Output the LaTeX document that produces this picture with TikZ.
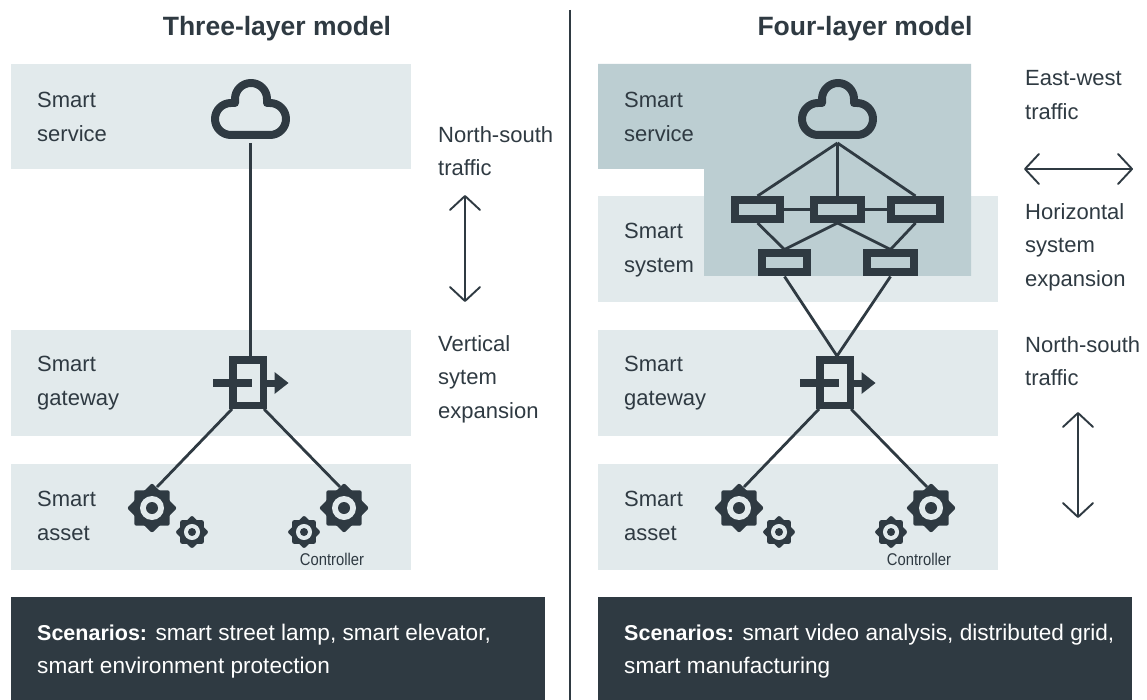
\documentclass[tikz,border=0pt]{standalone}
\usepackage{fontspec}
\setmainfont{Liberation Sans}
\usetikzlibrary{arrows.meta}
\definecolor{ink}{HTML}{2F3A42}
\definecolor{band}{HTML}{E2EAEC}
\definecolor{bandDark}{HTML}{BCCED2}
\newcommand{\scenhead}{{\fontsize{21.5}{33.5}\selectfont\bfseries Scenarios:}}
\tikzset{
  layer/.style={fill=band},
  panel/.style={fill=ink},
  wire/.style={draw=ink, line width=2.8pt},
  split/.style={draw=ink, line width=2.4pt},
  flow/.style={draw=ink, line width=1.9pt, line cap=round, {Straight Barb[length=14pt,width=30pt,line width=1.9pt,round]}-{Straight Barb[length=14pt,width=30pt,line width=1.9pt,round]}},
  lab/.style={text=ink, inner sep=0pt, anchor=west, align=left, font=\fontsize{22}{33.5}\selectfont},
  head/.style={text=ink, inner sep=0pt, font=\fontsize{26.5}{30}\selectfont\bfseries},
  scen/.style={text=white, inner sep=0pt, anchor=west, align=left, font=\fontsize{22.6}{33.5}\selectfont},
  small/.style={text=ink, inner sep=0pt, xscale=0.87, font=\fontsize{17}{18}\selectfont},
  swbox/.style={draw=ink, line width=8pt, minimum height=19pt, inner sep=0pt},
  cloudicon/.pic={
    \draw[ink, line width=8pt, line join=round] (-15.5,-16) -- ++(0,-4) arc(180:360:16) -- ++(0,4) -- (19.5,-16) arc(270:450:16) -- (-19.5,16) arc(90:270:16) -- cycle;
  },
  gateicon/.pic={
    \draw[ink, line width=7.5pt] (-15,-23) rectangle (15.5,22.5);
    \fill[ink] (-35.5,-4) rectangle (3.5,4);
    \fill[ink] (18,-3.5) rectangle (28,3.5);
    \fill[ink] (26.5,-11) -- (40.5,0) -- (26.5,11) -- cycle;
  },
  gearicon/.pic={
    \foreach \rot in {0,45}
      \fill[ink, rounded corners=2pt, rotate=\rot] (25,0) -- (0,25) -- (-25,0) -- (0,-25) -- cycle;
    \fill[ink] (0,0) circle(19);
    \fill[band] (0,0) circle(12);
    \fill[ink] (0,0) circle(6);
  }
}
\begin{document}
\begin{tikzpicture}[x=1pt, y=-1pt]
  \useasboundingbox (0,0) rectangle (1147,700);
  \fill[white] (0,0) rectangle (1147,700);

  \fill[layer] (11,64) rectangle (411,169);
  \fill[layer] (11,330) rectangle (411,436);
  \fill[layer] (11,464) rectangle (411,570);
  \fill[panel] (11,597) rectangle (545,700);

  \fill[layer] (598,196) rectangle (998,302);
  \fill[bandDark] (598,64) -- (971,64) -- (971,276) -- (704,276) -- (704,169) -- (598,169) -- cycle;
  \fill[layer] (598,330) rectangle (998,436);
  \fill[layer] (598,464) rectangle (998,570);
  \fill[panel] (598,597) rectangle (1132,700);

  \coordinate (splitTop) at (570,10);
  \coordinate (splitEnd) at (570,700);
  \draw[split] (splitTop) -- (splitEnd);

  \node[head] (titleL) at (277,29) {Three-layer model};
  \node[head] (titleR) at (865,29) {Four-layer model};

  % three-layer side
  \node[lab] (svcL) at (37,117) {Smart\\service};
  \node[lab] (gwL) at (37,383) {Smart\\gateway};
  \node[lab] (astL) at (37,516) {Smart\\asset};
  \node[lab] (nsL) at (438,151) {North-south\\traffic};
  \node[lab] (vertL) at (438,379) {Vertical\\sytem\\expansion};
  \node[scen] (scenL) at (37,651) {\scenhead{} smart street lamp, smart elevator,\\smart environment protection};
  \node[small] (ctrlL) at (332,559) {Controller};

  \coordinate (cloudL) at (250.5,143);
  \coordinate (gateTopL) at (250.5,356);
  \coordinate (gateLa) at (232,409);
  \coordinate (gateLb) at (264,409);
  \coordinate (gearLa) at (157,487);
  \coordinate (gearLb) at (340,487);
  \draw[wire] (cloudL) -- (gateTopL);
  \draw[wire] (gateLa) -- (gearLa);
  \draw[wire] (gateLb) -- (gearLb);
  \pic at (250.5,119) {cloudicon};
  \pic at (248,383) {gateicon};
  \pic at (152,508) {gearicon};
  \pic[scale=0.67] at (192,532) {gearicon};
  \pic at (344,508) {gearicon};
  \pic[scale=0.67] at (304,532) {gearicon};

  \coordinate (nsLa) at (465,195);
  \coordinate (nsLb) at (465,302);
  \draw[flow] (nsLa) -- (nsLb);

  % four-layer side
  \node[lab] (svcR) at (624,117) {Smart\\service};
  \node[lab] (sysR) at (624,250) {Smart\\system};
  \node[lab] (gwR) at (624,383) {Smart\\gateway};
  \node[lab] (astR) at (624,516) {Smart\\asset};
  \node[lab] (ewR) at (1025,95) {East-west\\traffic};
  \node[lab] (horR) at (1025,247) {Horizontal\\system\\expansion};
  \node[lab] (nsR) at (1025,361) {North-south\\traffic};
  \node[scen] (scenR) at (624,651) {\scenhead{} smart video analysis, distributed grid,\\smart manufacturing};
  \node[small] (ctrlR) at (919,559) {Controller};

  \node[swbox, minimum width=45pt] (swA) at (757.5,209.5) {};
  \node[swbox, minimum width=47pt] (swB) at (837.5,209.5) {};
  \node[swbox, minimum width=49pt] (swC) at (915.5,209.5) {};
  \node[swbox, minimum width=45pt] (swD) at (784.5,263) {};
  \node[swbox, minimum width=47pt] (swE) at (890.5,263) {};

  \coordinate (cloudR) at (837.5,143);
  \coordinate (gateTopR) at (837,356);
  \coordinate (gateRa) at (819,409);
  \coordinate (gateRb) at (851,409);
  \coordinate (gearRa) at (744,487);
  \coordinate (gearRb) at (927,487);
  \draw[wire] (cloudR) -- (swA.north);
  \draw[wire] (cloudR) -- (swB.north);
  \draw[wire] (cloudR) -- (swC.north);
  \draw[wire] (swA) -- (swB);
  \draw[wire] (swB) -- (swC);
  \draw[wire] (swA.south) -- (swD.north);
  \draw[wire] (swB.south) -- (swD.north);
  \draw[wire] (swB.south) -- (swE.north);
  \draw[wire] (swC.south) -- (swE.north);
  \draw[wire] (swD.south) -- (gateTopR);
  \draw[wire] (swE.south) -- (gateTopR);
  \draw[wire] (gateRa) -- (gearRa);
  \draw[wire] (gateRb) -- (gearRb);
  \pic at (837.5,119) {cloudicon};
  \pic at (835,383) {gateicon};
  \pic at (739,508) {gearicon};
  \pic[scale=0.67] at (779,532) {gearicon};
  \pic at (931,508) {gearicon};
  \pic[scale=0.67] at (891,532) {gearicon};

  \coordinate (ewRa) at (1024,169);
  \coordinate (ewRb) at (1133,169);
  \coordinate (nsRa) at (1078,412);
  \coordinate (nsRb) at (1078,518);
  \draw[flow] (ewRa) -- (ewRb);
  \draw[flow] (nsRa) -- (nsRb);
\end{tikzpicture}
\end{document}
